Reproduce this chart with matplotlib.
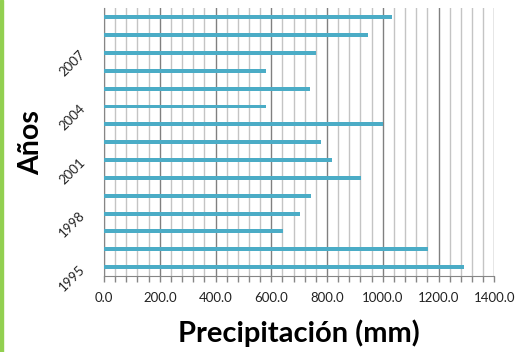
import matplotlib
matplotlib.use("Agg")
import matplotlib.pyplot as plt
from matplotlib.ticker import MultipleLocator, FixedLocator, FixedFormatter, FormatStrFormatter
from matplotlib.patches import Rectangle

years = list(range(1995, 2010))
precip = [1290, 1161, 641, 702, 742, 923, 819, 777, 1001, 580, 740, 580, 759, 947, 1034]
year_labels = [str(y) if (y - 1995) % 3 == 0 else "" for y in years]

plt.rcParams["font.family"] = ["Lato", "DejaVu Sans"]

W, H = 516, 352
fig = plt.figure(figsize=(W / 100, H / 100), dpi=100)
ax = fig.add_axes([104 / W, (H - 276) / H, (494.3 - 104) / W, (276 - 8.4) / H])

pos = list(range(len(years)))
ax.barh(pos, precip, height=0.22, color="#4BACC6", zorder=3)

ax.set_xlim(0, 1400)
ax.set_ylim(-0.5, len(years) - 0.5)

ax.xaxis.set_major_locator(MultipleLocator(200))
ax.xaxis.set_minor_locator(MultipleLocator(40))
ax.xaxis.set_major_formatter(FormatStrFormatter("%.1f"))
ax.grid(which="major", axis="x", color="#808080", linewidth=1.0, zorder=1)
ax.grid(which="minor", axis="x", color="#C4C4C4", linewidth=1.0, zorder=1)
ax.tick_params(axis="x", which="both", length=4.5, color="#868686", width=1.0,
               labelsize=9.5, labelcolor="#222222", pad=7)

ax.yaxis.set_major_locator(FixedLocator(pos))
ax.yaxis.set_major_formatter(FixedFormatter(year_labels))
ax.tick_params(axis="y", length=0, labelsize=9.5, labelcolor="#222222", pad=15)
for lbl in ax.get_yticklabels():
    lbl.set_rotation(45)
    lbl.set_rotation_mode("anchor")
    lbl.set_ha("right")
    lbl.set_va("center")

for side in ("top", "right"):
    ax.spines[side].set_visible(False)
ax.spines["left"].set_color("#868686")
ax.spines["bottom"].set_color("#868686")

ax.set_xlabel("Precipitación (mm)", fontsize=21, fontweight="bold", labelpad=11)
ax.set_ylabel("Años", fontsize=20.5, fontweight="bold", labelpad=9)

fig.patches.append(Rectangle((0, 0), 2.5 / W, 1, transform=fig.transFigure,
                             color="#92D050", zorder=10))

fig.savefig("out.png", dpi=100)
